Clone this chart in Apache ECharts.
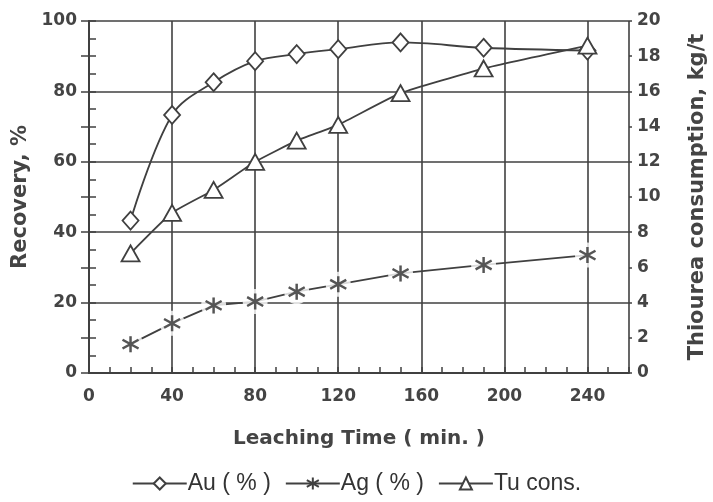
<!DOCTYPE html>
<html>
<head>
<meta charset="utf-8">
<script src="https://cdn.jsdelivr.net/npm/echarts@6/dist/echarts.min.js"></script>
<style>
  html, body { margin: 0; padding: 0; background: #fff; }
  #chart { width: 713px; height: 502px; }
</style>
</head>
<body>
<div id="chart"></div>
<script>
// leaching time (min.)
const times = [20, 40, 60, 80, 100, 120, 150, 190, 240]
// recovery, %
const auRecovery = [43.3, 73.3, 82.6, 88.6, 90.6, 92.0, 93.9, 92.4, 91.6]
const agRecovery = [8.2, 14.1, 19.2, 20.3, 23.1, 25.2, 28.3, 30.7, 33.5]
// thiourea consumption, kg/t
const tuConsumption = [6.8, 9.1, 10.4, 12.0, 13.2, 14.1, 15.9, 17.3, 18.6]

const ink = '#404040'
const boldFont = 'DejaVu Sans'
const asterisk = 'path://M0,-10L0,10M-9,-5.5L9,5.5M-9,5.5L9,-5.5'

const pairs = (ys) => times.map((t, i) => [t, ys[i]])

const tickLabel = { fontFamily: boldFont, fontSize: 17, fontWeight: 'bold', color: '#444' }
const axisName = { fontFamily: boldFont, fontSize: 21, fontWeight: 'bold', color: '#444' }

const chart = echarts.init(document.getElementById('chart'))
chart.setOption({
  animation: false,
  backgroundColor: '#fff',
  textStyle: { fontFamily: 'Liberation Sans, Arial, sans-serif' },
  grid: { left: 89, right: 84, top: 21, bottom: 129, outerBoundsMode: 'none' },
  legend: {
    data: ['Au ( % )', 'Ag ( % )', 'Tu cons.'],
    bottom: 2,
    left: 'center',
    itemWidth: 54,
    itemHeight: 15,
    itemGap: 14,
    textStyle: { fontSize: 23, color: '#333', padding: [0, 0, 0, -4] }
  },
  xAxis: [
    {
      type: 'value',
      min: 0,
      max: 260,
      interval: 40,
      name: 'Leaching Time ( min. )',
      nameLocation: 'middle',
      nameGap: 56,
      nameTextStyle: { ...axisName, fontSize: 20 },
      axisLine: { show: true, onZero: false, lineStyle: { color: ink, width: 2 } },
      axisTick: { show: false },
      axisLabel: { ...tickLabel, showMaxLabel: false, margin: 15 },
      splitLine: { show: true, lineStyle: { color: ink, width: 1.6 } }
    },
    {
      // minor ticks every 10 min
      type: 'value',
      min: 0,
      max: 260,
      interval: 10,
      position: 'bottom',
      axisLine: { show: false },
      axisTick: { show: true, inside: true, length: 6, lineStyle: { color: ink, width: 1.5 } },
      axisLabel: { show: false },
      splitLine: { show: false }
    }
  ],
  yAxis: [
    {
      type: 'value',
      min: 0,
      max: 100,
      interval: 20,
      name: 'Recovery, %',
      nameLocation: 'middle',
      nameGap: 48,
      nameTextStyle: axisName,
      axisLine: { show: true, lineStyle: { color: ink, width: 2 } },
      axisTick: { show: true, inside: true, length: 7, lineStyle: { color: ink, width: 1.5 } },
      minorTick: { show: true, splitNumber: 4, length: 7, lineStyle: { color: ink, width: 1.5 } },
      axisLabel: { ...tickLabel, margin: 12 },
      splitLine: { show: true, lineStyle: { color: ink, width: 1.6 } }
    },
    {
      type: 'value',
      min: 0,
      max: 20,
      interval: 2,
      position: 'right',
      name: 'Thiourea consumption, kg/t',
      nameLocation: 'middle',
      nameGap: 58,
      nameRotate: 90,
      nameTextStyle: axisName,
      axisLine: { show: true, lineStyle: { color: ink, width: 2 } },
      axisTick: { show: true, inside: true, length: 8, lineStyle: { color: ink, width: 1.5 } },
      axisLabel: { ...tickLabel, margin: 8 },
      splitLine: { show: false }
    },
    {
      // short outer part of the right-hand ticks
      type: 'value',
      min: 0,
      max: 20,
      interval: 2,
      position: 'right',
      axisLine: { show: false },
      axisTick: { show: true, inside: false, length: 3, lineStyle: { color: ink, width: 1.5 } },
      axisLabel: { show: false },
      splitLine: { show: false }
    }
  ],
  series: [
    {
      name: 'Au ( % )',
      type: 'line',
      data: pairs(auRecovery),
      smooth: 0.35,
      symbol: 'diamond',
      symbolSize: [16, 18],
      lineStyle: { color: ink, width: 1.8 },
      itemStyle: { color: '#fff', borderColor: ink, borderWidth: 1.8 },
      z: 3
    },
    {
      name: 'Tu cons.',
      type: 'line',
      yAxisIndex: 1,
      data: pairs(tuConsumption),
      smooth: 0.15,
      symbol: 'triangle',
      symbolSize: [18, 16],
      lineStyle: { color: ink, width: 1.8 },
      itemStyle: { color: '#fff', borderColor: ink, borderWidth: 1.8 },
      z: 3
    },
    {
      name: 'Ag ( % )',
      type: 'line',
      data: pairs(agRecovery),
      symbol: asterisk,
      symbolSize: 16,
      lineStyle: { color: ink, width: 1.8 },
      itemStyle: { color: 'none', borderColor: ink, borderWidth: 2.4 },
      z: 3
    },
    {
      // white gap round the asterisks
      type: 'scatter',
      data: pairs(agRecovery),
      symbol: 'circle',
      symbolSize: 25,
      itemStyle: { color: '#fff' },
      silent: true,
      z: 4
    },
    {
      type: 'scatter',
      data: pairs(agRecovery),
      symbol: asterisk,
      symbolSize: 16,
      itemStyle: { color: 'none', borderColor: '#333', borderWidth: 2.4 },
      silent: true,
      z: 5
    }
  ]
})
</script>
</body>
</html>
